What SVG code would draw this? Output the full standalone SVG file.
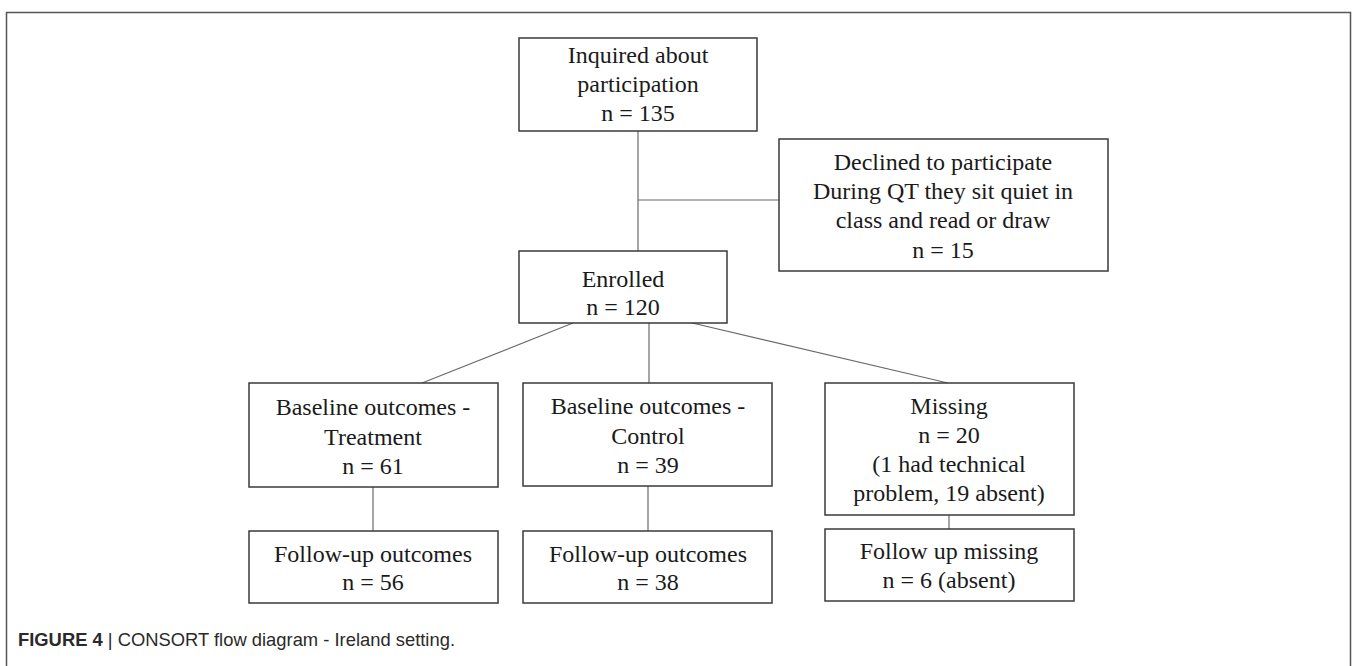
<svg xmlns="http://www.w3.org/2000/svg" width="1357" height="666" viewBox="0 0 1357 666">
  <style>
    .box { fill: #ffffff; stroke: #3a3a3a; stroke-width: 1.5; }
    .lbl { font-family: "Liberation Serif", "Times New Roman", serif; font-size: 24px; fill: #1a1a1a; text-anchor: middle; }
    .conn line { stroke: #6a6a6a; stroke-width: 1.2; }
    .frame { fill: none; stroke: #555555; stroke-width: 1.5; }
    .cap { font-family: "Liberation Sans", Arial, sans-serif; font-size: 19px; fill: #2a2a2a; }
  </style>
  <rect width="1357" height="666" fill="#ffffff"/>
  <!-- outer frame, open at the bottom -->
  <path class="frame" d="M6.5,670 V12.5 H1350.5 V670"/>

  <g class="conn" id="connectors">
    <line x1="638" y1="131" x2="638" y2="251"/>
    <line x1="638" y1="200" x2="779" y2="200"/>
    <line x1="573" y1="323" x2="422" y2="383"/>
    <line x1="649" y1="323" x2="649" y2="383"/>
    <line x1="688" y1="322" x2="948" y2="383"/>
    <line x1="373" y1="487" x2="373" y2="531"/>
    <line x1="648" y1="486" x2="648" y2="531"/>
    <line x1="949" y1="515" x2="949" y2="529"/>
  </g>

  <g id="inquired">
    <rect class="box" x="519" y="38" width="238" height="93"/>
    <text class="lbl" x="638" y="63">Inquired about</text>
    <text class="lbl" x="638" y="92">participation</text>
    <text class="lbl" x="638" y="121">n = 135</text>
  </g>

  <g id="declined">
    <rect class="box" x="779" y="139" width="329" height="132"/>
    <text class="lbl" x="943" y="170">Declined to participate</text>
    <text class="lbl" x="943" y="199">During QT they sit quiet in</text>
    <text class="lbl" x="943" y="228">class and read or draw</text>
    <text class="lbl" x="943" y="258">n = 15</text>
  </g>

  <g id="enrolled">
    <rect class="box" x="519" y="251" width="208" height="72"/>
    <text class="lbl" x="623" y="287">Enrolled</text>
    <text class="lbl" x="623" y="315">n = 120</text>
  </g>

  <g id="baseline-treatment">
    <rect class="box" x="249" y="383" width="249" height="104"/>
    <text class="lbl" x="373" y="415">Baseline outcomes -</text>
    <text class="lbl" x="373" y="445">Treatment</text>
    <text class="lbl" x="373" y="474">n = 61</text>
  </g>

  <g id="baseline-control">
    <rect class="box" x="523" y="383" width="249" height="103"/>
    <text class="lbl" x="648" y="414">Baseline outcomes -</text>
    <text class="lbl" x="648" y="444">Control</text>
    <text class="lbl" x="648" y="473">n = 39</text>
  </g>

  <g id="missing">
    <rect class="box" x="825" y="383" width="249" height="132"/>
    <text class="lbl" x="949" y="414">Missing</text>
    <text class="lbl" x="949" y="443">n = 20</text>
    <text class="lbl" x="949" y="472">(1 had technical</text>
    <text class="lbl" x="949" y="501">problem, 19 absent)</text>
  </g>

  <g id="followup-treatment">
    <rect class="box" x="249" y="531" width="249" height="72"/>
    <text class="lbl" x="373" y="562">Follow-up outcomes</text>
    <text class="lbl" x="373" y="590">n = 56</text>
  </g>

  <g id="followup-control">
    <rect class="box" x="523" y="531" width="249" height="72"/>
    <text class="lbl" x="648" y="562">Follow-up outcomes</text>
    <text class="lbl" x="648" y="590">n = 38</text>
  </g>

  <g id="followup-missing">
    <rect class="box" x="825" y="529" width="249" height="72"/>
    <text class="lbl" x="949" y="559">Follow up missing</text>
    <text class="lbl" x="949" y="588">n = 6 (absent)</text>
  </g>

  <text class="cap" x="18" y="646" textLength="437" lengthAdjust="spacingAndGlyphs"><tspan font-weight="bold">FIGURE 4</tspan> | CONSORT flow diagram - Ireland setting.</text>
</svg>
